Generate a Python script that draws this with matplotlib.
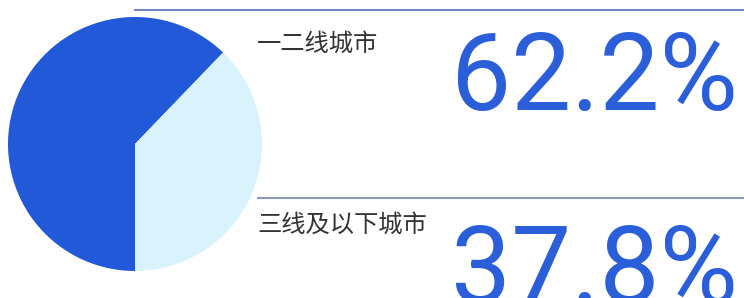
import matplotlib.pyplot as plt
from matplotlib import font_manager

categories = ["一二线城市", "三线及以下城市"]
shares = [62.2, 37.8]
share_labels = ["62.2%", "37.8%"]
colors = ["#2159d9", "#d9f3fc"]

# big numbers in Roboto if it is around
num_font = "Roboto"
names = [f.name for f in font_manager.fontManager.ttflist]
if "Roboto" not in names:
    num_font = "DejaVu Sans"

fig = plt.figure(figsize=(7.44, 2.98), dpi=100)
ax = fig.add_axes([0, 0, 1, 1])

ax.pie(shares, colors=colors, startangle=-90, counterclock=False,
       center=(135, 154), radius=127, frame=True,
       wedgeprops=dict(linewidth=0))
ax.set_xlim(0, 744)
ax.set_ylim(0, 298)
ax.set_aspect("equal")
ax.axis("off")

# divider lines
ax.plot([135, 744], [288, 288], color="#6f86c8", lw=1.5)
ax.plot([258, 744], [100, 100], color="#8a9bb8", lw=1.5)

label_y = [254, 73]
num_base = [188, -5]
for i in range(len(categories)):
    ax.text(257, label_y[i], categories[i], fontsize=17.5, color="#333333",
            family=["Noto Sans CJK SC", "DejaVu Sans"], va="center", ha="left")
    ax.text(451, num_base[i], share_labels[i], fontsize=77, color="#2b5fd9",
            family=num_font, fontweight="normal", va="baseline", ha="left")

fig.savefig("out.png", dpi=100)
